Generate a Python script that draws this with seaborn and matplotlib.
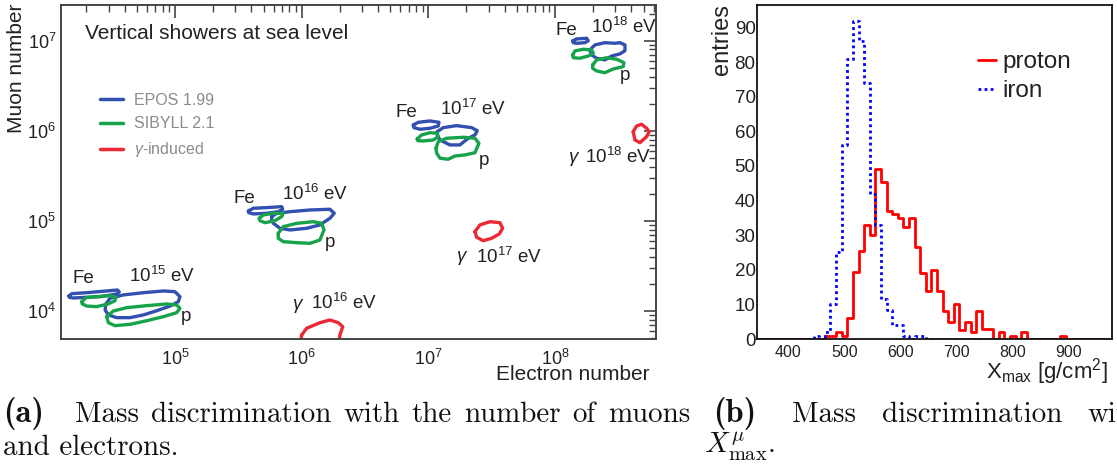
import numpy as np
import pandas as pd
import matplotlib
matplotlib.use("Agg")
import matplotlib.pyplot as plt
import seaborn as sns
from matplotlib.lines import Line2D
from matplotlib.ticker import LogLocator, MultipleLocator, NullFormatter

# ---------------- data: (a) contours, log10(electron number), log10(muon number)
epos_fe15_lgne = [4.163, 4.185, 4.303, 4.461, 4.545, 4.560, 4.540, 4.461, 4.408, 4.303, 4.197, 4.166]
epos_fe15_lgnmu = [4.166, 4.192, 4.203, 4.222, 4.233, 4.211, 4.189, 4.170, 4.159, 4.152, 4.144, 4.152]
epos_p15_lgne = [4.455, 4.487, 4.592, 4.750, 4.908, 5.000, 5.039, 5.026, 4.961, 4.856, 4.750, 4.645, 4.540, 4.474, 4.448]
epos_p15_lgnmu = [4.078, 4.141, 4.178, 4.203, 4.222, 4.214, 4.159, 4.103, 4.055, 4.003, 3.956, 3.926, 3.926, 3.956, 4.011]
sib_fe15_lgne = [4.264, 4.298, 4.382, 4.487, 4.534, 4.526, 4.474, 4.382, 4.303, 4.268]
sib_fe15_lgnmu = [4.103, 4.148, 4.159, 4.170, 4.152, 4.114, 4.078, 4.048, 4.055, 4.078]
sib_p15_lgne = [4.461, 4.513, 4.619, 4.777, 4.934, 5.013, 5.039, 5.013, 4.908, 4.777, 4.645, 4.526, 4.474]
sib_p15_lgnmu = [3.937, 4.000, 4.037, 4.059, 4.078, 4.067, 4.030, 3.981, 3.937, 3.892, 3.852, 3.837, 3.870]

epos_fe16_lgne = [5.579, 5.618, 5.724, 5.842, 5.850, 5.815, 5.724, 5.618, 5.582]
epos_fe16_lgnmu = [5.110, 5.140, 5.147, 5.158, 5.129, 5.102, 5.084, 5.077, 5.091]
epos_p16_lgne = [5.763, 5.803, 5.908, 6.066, 6.223, 6.257, 6.223, 6.144, 6.039, 5.908, 5.829, 5.776, 5.763]
epos_p16_lgnmu = [5.047, 5.084, 5.102, 5.121, 5.129, 5.084, 5.029, 4.955, 4.918, 4.899, 4.918, 4.973, 5.018]
sib_fe16_lgne = [5.665, 5.697, 5.776, 5.855, 5.842, 5.789, 5.710, 5.671]
sib_fe16_lgnmu = [5.029, 5.066, 5.084, 5.084, 5.047, 5.002, 4.980, 5.002]
sib_p16_lgne = [5.815, 5.855, 5.961, 6.092, 6.158, 6.176, 6.144, 6.066, 5.961, 5.855, 5.815]
sib_p16_lgnmu = [4.862, 4.936, 4.973, 4.991, 4.973, 4.899, 4.788, 4.751, 4.758, 4.769, 4.807]

epos_fe17_lgne = [6.881, 6.920, 7.013, 7.084, 7.078, 7.013, 6.934, 6.886]
epos_fe17_lgnmu = [6.064, 6.094, 6.109, 6.094, 6.053, 6.028, 6.017, 6.035]
epos_p17_lgne = [7.070, 7.118, 7.223, 7.342, 7.386, 7.368, 7.315, 7.249, 7.170, 7.092, 7.070]
epos_p17_lgnmu = [5.990, 6.035, 6.057, 6.035, 6.001, 5.954, 5.917, 5.843, 5.843, 5.898, 5.954]
sib_fe17_lgne = [6.912, 6.947, 7.013, 7.070, 7.078, 7.039, 6.960, 6.916]
sib_fe17_lgnmu = [5.909, 5.954, 5.979, 5.972, 5.935, 5.898, 5.887, 5.890]
sib_p17_lgne = [7.060, 7.078, 7.144, 7.275, 7.368, 7.399, 7.368, 7.289, 7.210, 7.157, 7.092, 7.066]
sib_p17_lgnmu = [5.806, 5.879, 5.917, 5.928, 5.917, 5.861, 5.757, 5.732, 5.720, 5.684, 5.695, 5.750]

epos_fe18_lgne = [8.139, 8.170, 8.249, 8.262, 8.236, 8.170, 8.144]
epos_fe18_lgnmu = [6.997, 7.019, 7.027, 7.000, 6.978, 6.971, 6.978]
epos_p18_lgne = [8.275, 8.315, 8.394, 8.473, 8.512, 8.552, 8.552, 8.512, 8.447, 8.394, 8.328, 8.289]
epos_p18_lgnmu = [6.897, 6.953, 6.978, 6.971, 6.978, 6.953, 6.889, 6.853, 6.830, 6.786, 6.805, 6.842]
sib_fe18_lgne = [8.139, 8.157, 8.223, 8.289, 8.302, 8.262, 8.197, 8.144]
sib_fe18_lgnmu = [6.842, 6.886, 6.905, 6.897, 6.860, 6.830, 6.805, 6.811]
sib_p18_lgne = [8.297, 8.328, 8.407, 8.486, 8.544, 8.538, 8.459, 8.394, 8.328, 8.297]
sib_p18_lgnmu = [6.731, 6.786, 6.811, 6.794, 6.756, 6.712, 6.686, 6.645, 6.664, 6.694]

gam16_lgne = [6.000, 6.039, 6.144, 6.223, 6.289, 6.324, 6.302, 6.289, 5.987]
gam16_lgnmu = [3.734, 3.808, 3.870, 3.900, 3.870, 3.826, 3.734, 3.623, 3.623]
gam17_lgne = [7.368, 7.407, 7.486, 7.565, 7.586, 7.560, 7.500, 7.433, 7.381]
gam17_lgnmu = [4.880, 4.955, 4.991, 4.980, 4.918, 4.855, 4.807, 4.780, 4.818]
gam18_lgne = [8.617, 8.644, 8.683, 8.723, 8.743, 8.723, 8.670, 8.631]
gam18_lgnmu = [5.990, 6.053, 6.072, 6.028, 5.990, 5.935, 5.868, 5.898]

model_labels = ["EPOS 1.99", "SIBYLL 2.1", r"$\mathit{\gamma}$-induced"]

# ---------------- data: (b) Xmax histograms (bin centres, entries)
proton_xmax = [470, 480, 490, 500, 510, 520, 530, 540, 550, 560, 570, 580, 590, 600,
               610, 620, 630, 640, 650, 660, 670, 680, 690, 700, 710, 720, 730, 740,
               750, 760, 780, 800, 820, 890]
proton_entries = [1, 1, 2, 1, 6, 19.5, 25.5, 33, 30, 49, 45.5, 37, 36, 35,
                  32.5, 35, 26.5, 19, 14, 20, 14, 8, 5, 10, 2.5, 5, 2, 8,
                  3, 3, 2, 1, 2, 1]
iron_xmax = [450, 470, 480, 490, 500, 510, 520, 530, 540, 550, 560, 570, 580, 590,
             600, 610, 630, 640]
iron_entries = [1, 2, 10, 25, 56, 81, 92, 86, 74, 42, 33, 11.5, 8.5, 4,
                4, 1, 1, 1]
hist_labels = ["proton", "iron"]

caption_a_words = ["Mass", "discrimination", "with", "the", "number", "of", "muons"]
caption_b_words = ["Mass", "discrimination", "with"]

df_p = pd.DataFrame({"xmax": proton_xmax, "entries": proton_entries})
df_fe = pd.DataFrame({"xmax": iron_xmax, "entries": iron_entries})

# ---------------- style
sns.set_theme(style="white")
plt.rcParams['font.family'] = ['Liberation Sans', 'DejaVu Sans']
plt.rcParams['mathtext.fontset'] = 'custom'
plt.rcParams['mathtext.rm'] = 'Liberation Sans'
plt.rcParams['mathtext.it'] = 'Liberation Sans:italic'
plt.rcParams['mathtext.bf'] = 'Liberation Sans:bold'
plt.rcParams['mathtext.default'] = 'regular'

C_EPOS = "#3150b0"
C_SIB = "#17a34a"
C_GAM = "#ee2833"
TXT = "#222222"

W, H = 1117, 470
fig = plt.figure(figsize=(W / 100, H / 100), dpi=100)
ax1 = fig.add_axes([61 / W, (H - 339) / H, 595 / W, 334 / H])
ax2 = fig.add_axes([757 / W, (H - 339) / H, 355 / W, 334 / H])

# ---------------- panel (a)
ax1.set_xscale('log')
ax1.set_yscale('log')

loops = [
    (epos_fe15_lgne, epos_fe15_lgnmu, C_EPOS), (epos_p15_lgne, epos_p15_lgnmu, C_EPOS),
    (sib_fe15_lgne, sib_fe15_lgnmu, C_SIB), (sib_p15_lgne, sib_p15_lgnmu, C_SIB),
    (epos_fe16_lgne, epos_fe16_lgnmu, C_EPOS), (epos_p16_lgne, epos_p16_lgnmu, C_EPOS),
    (sib_fe16_lgne, sib_fe16_lgnmu, C_SIB), (sib_p16_lgne, sib_p16_lgnmu, C_SIB),
    (epos_fe17_lgne, epos_fe17_lgnmu, C_EPOS), (epos_p17_lgne, epos_p17_lgnmu, C_EPOS),
    (sib_fe17_lgne, sib_fe17_lgnmu, C_SIB), (sib_p17_lgne, sib_p17_lgnmu, C_SIB),
    (epos_fe18_lgne, epos_fe18_lgnmu, C_EPOS), (epos_p18_lgne, epos_p18_lgnmu, C_EPOS),
    (sib_fe18_lgne, sib_fe18_lgnmu, C_SIB), (sib_p18_lgne, sib_p18_lgnmu, C_SIB),
    (gam16_lgne, gam16_lgnmu, C_GAM), (gam17_lgne, gam17_lgnmu, C_GAM),
    (gam18_lgne, gam18_lgnmu, C_GAM),
]
for lx, ly, col in loops:
    xs = 10 ** np.array(list(lx) + [lx[0]])
    ys = 10 ** np.array(list(ly) + [ly[0]])
    sns.lineplot(x=xs, y=ys, sort=False, estimator=None, color=col, lw=2.4,
                 ax=ax1, solid_joinstyle='round', solid_capstyle='round')

ax1.set_xlim(10 ** 4.1, 10 ** 8.797)
ax1.set_ylim(10 ** 3.689, 10 ** 7.396)
ax1.xaxis.set_major_locator(LogLocator(base=10, numticks=20))
ax1.yaxis.set_major_locator(LogLocator(base=10, numticks=20))
ax1.xaxis.set_minor_locator(LogLocator(base=10, subs=np.arange(2, 10), numticks=50))
ax1.yaxis.set_minor_locator(LogLocator(base=10, subs=np.arange(2, 10), numticks=50))
ax1.xaxis.set_minor_formatter(NullFormatter())
ax1.yaxis.set_minor_formatter(NullFormatter())
ax1.tick_params(which='both', direction='in', top=True, right=True, colors='#444444',
                labelcolor=TXT, labelsize=13)
ax1.tick_params(which='major', length=9, width=1.2)
ax1.tick_params(which='minor', length=5, width=1.0)
ax1.tick_params(axis='x', pad=7)
for s in ax1.spines.values():
    s.set_color('#444444')
    s.set_linewidth(1.4)
ax1.set_xlabel("")
ax1.set_ylabel("")

ax1.text(0.040, 0.916, "Vertical showers at sea level", transform=ax1.transAxes,
         ha='left', va='center', fontsize=15, color=TXT)

handles = [Line2D([0], [0], color=c, lw=2.5) for c in (C_EPOS, C_SIB, C_GAM)]
ax1.legend(handles, model_labels, loc='upper left', bbox_to_anchor=(0.055, 0.757),
           frameon=False, fontsize=11.5, labelcolor='#8c8c8c', handlelength=1.45,
           handletextpad=0.65, labelspacing=0.55, borderaxespad=0)

ann = [
    ("Fe", 0.037, 0.182), ("10$^{15}$ eV", 0.170, 0.188), ("p", 0.210, 0.066),
    ("Fe", 0.308, 0.422), ("10$^{16}$ eV", 0.427, 0.433), ("p", 0.452, 0.288),
    ("Fe", 0.580, 0.677), ("10$^{17}$ eV", 0.692, 0.688), ("p", 0.711, 0.534),
    ("Fe", 0.849, 0.925), ("10$^{18}$ eV", 0.946, 0.933), ("p", 0.948, 0.788),
    ("10$^{16}$ eV", 0.476, 0.108), ("10$^{17}$ eV", 0.753, 0.246), ("10$^{18}$ eV", 0.936, 0.545),
]
for t, fx, fy in ann:
    ax1.text(fx, fy, t, transform=ax1.transAxes, ha='center', va='center',
             fontsize=13.5, color=TXT)
for fx, fy in [(0.398, 0.102), (0.674, 0.246), (0.861, 0.542)]:
    ax1.text(fx, fy, "γ", transform=ax1.transAxes, ha='center', va='center',
             fontsize=13.5, color=TXT, fontstyle='italic')

fig.text(17 / W, 1 - 4 / H, "Muon number", rotation=90, ha='center', va='top',
         fontsize=15, color=TXT)
fig.text(650 / W, 1 - 374 / H, "Electron number", ha='right', va='center',
         fontsize=15, color=TXT)

# ---------------- panel (b)
sns.histplot(data=df_p, x="xmax", weights="entries", bins=list(range(345, 986, 10)),
             element='step', fill=False, color='#ff0000', linewidth=2.0, ax=ax2)
sns.histplot(data=df_fe, x="xmax", weights="entries", bins=list(range(435, 766, 10)),
             element='step', fill=False, color='#0000ff', linewidth=2.0,
             linestyle=(0, (1, 1.2)), ax=ax2)
ax2.set_xlim(344, 977)
ax2.set_ylim(0, 96.5)
ax2.set_xlabel("")
ax2.set_ylabel("")
ax2.xaxis.set_major_locator(MultipleLocator(100))
ax2.xaxis.set_minor_locator(MultipleLocator(20))
ax2.yaxis.set_major_locator(MultipleLocator(10))
ax2.yaxis.set_minor_locator(MultipleLocator(2))
ax2.tick_params(which='both', direction='in', colors='#222222', labelcolor=TXT)
ax2.tick_params(which='major', length=9, width=1.0)
ax2.tick_params(which='minor', length=5, width=1.0)
ax2.tick_params(axis='x', labelsize=11.5, pad=4)
ax2.tick_params(axis='y', labelsize=13.5, pad=1)
for s in ax2.spines.values():
    s.set_color('#111111')
    s.set_linewidth(1.3)

h2 = [Line2D([0], [0], color='#ff0000', lw=2.0),
      Line2D([0], [0], color='#0000ff', lw=2.0, linestyle=(0, (1, 1.2)))]
ax2.legend(h2, hist_labels, loc='upper left', bbox_to_anchor=(0.595, 0.89), frameon=False,
           fontsize=17.5, handlelength=0.75, handletextpad=0.25, labelspacing=0.28,
           borderaxespad=0, labelcolor=TXT)

fig.text(722 / W, 1 - 4 / H, "entries", rotation=90, ha='center', va='top',
         fontsize=17, color=TXT)
fig.text(1108 / W, 1 - 372 / H, "X$_{\\rm max}$ [g/cm$^{2}$]", ha='right', va='center',
         fontsize=16, color=TXT)

# ---------------- captions (justified words)
renderer = fig.canvas.get_renderer()


def text_width(s, **kw):
    t = fig.text(0, 0, s, **kw)
    w = t.get_window_extent(renderer).width
    t.remove()
    return w


cap_fs = 20 * 181 / text_width("discrimination", fontfamily='cmr10', fontsize=20)
cap = dict(fontfamily='cmr10', fontsize=cap_fs, color='#111111', va='baseline')
capb = dict(fontfamily='cmb10', fontsize=cap_fs * 1.12, color='#111111', va='baseline')
y1 = 1 - 422 / H
y2 = 1 - 455 / H

fig.text(3 / W, y1, "(a)", **capb)
widths = [text_width(w, **cap) for w in caption_a_words]
x_start, x_end = 75.0, 690.0
gap = (x_end - x_start - sum(widths)) / (len(caption_a_words) - 1)
x = x_start
for word, wd in zip(caption_a_words, widths):
    fig.text(x / W, y1, word, **cap)
    x += wd + gap
fig.text(3 / W, y2, "and electrons.", **cap)

fig.text(713 / W, y1, "(b)", **capb)
for word, xp in zip(caption_b_words, [792, 882, 1088]):
    fig.text(xp / W, y1, word, **cap)
fig.text(704 / W, y2 + 2 / H, r"$\mathit{X}^{\mathit{\mu}}_{\mathrm{max}}$.",
         math_fontfamily='cm', **cap)

fig.savefig("out.png", dpi=100)
